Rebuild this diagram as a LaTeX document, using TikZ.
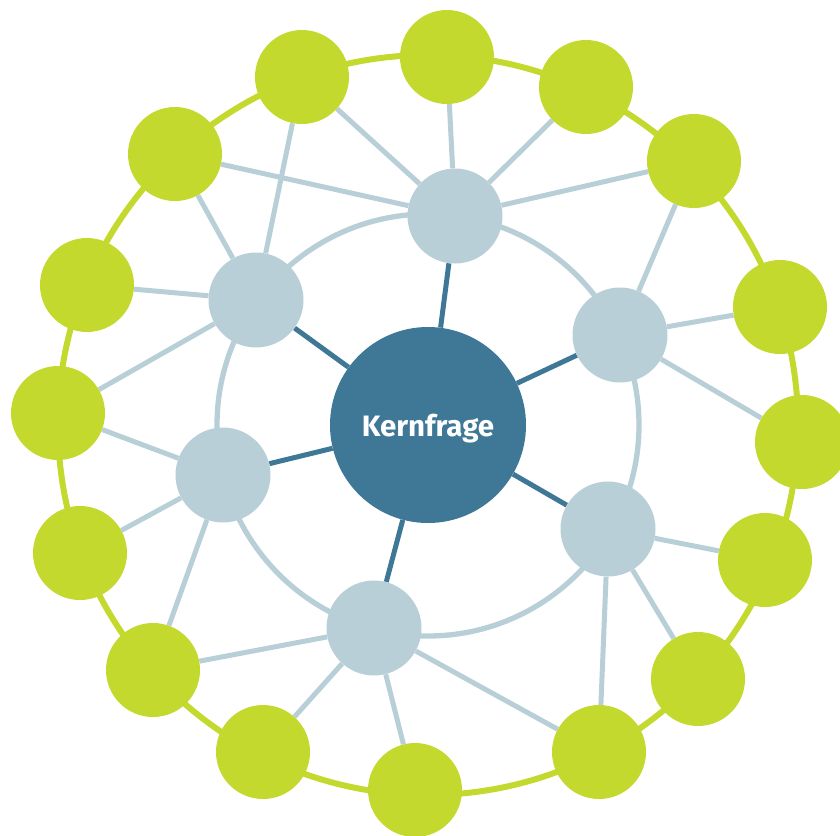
\documentclass[tikz,border=0pt]{standalone}
\usepackage{fontspec}
\setmainfont{Fira Sans}
\usetikzlibrary{backgrounds}
\definecolor{kerncol}{HTML}{3E7896}
\definecolor{innercol}{HTML}{B9CFD8}
\definecolor{outercol}{HTML}{C4D92E}
\begin{document}
\begin{tikzpicture}[x=1pt,y=-1pt,
  outernode/.style={circle,fill=outercol,minimum size=94pt,inner sep=0pt},
  innernode/.style={circle,fill=innercol,minimum size=95pt,inner sep=0pt},
  kernnode/.style={circle,fill=kerncol,minimum size=196pt,inner sep=0pt,text depth=0pt,text=white,font=\bfseries\fontsize{29.5}{31}\selectfont},
  link/.style={draw=innercol,line width=5pt},
  spoke/.style={draw=kerncol,line width=5pt},
  ring/.style={line width=5.3pt}]
\useasboundingbox (0,0) rectangle (840,835);
% centre
\node[kernnode] (k) at (428,425) {Kernfrage};
% inner nodes
\node[innernode] (i1) at (455,216) {};
\node[innernode] (i2) at (256,300) {};
\node[innernode] (i3) at (620,335) {};
\node[innernode] (i4) at (223,475) {};
\node[innernode] (i5) at (608,529) {};
\node[innernode] (i6) at (374,628) {};
% outer nodes
\node[outernode] (o1) at (447,57) {};
\node[outernode] (o2) at (302,77) {};
\node[outernode] (o3) at (586,87) {};
\node[outernode] (o4) at (175,154) {};
\node[outernode] (o5) at (694,161) {};
\node[outernode] (o6) at (87,285) {};
\node[outernode] (o7) at (780,307) {};
\node[outernode] (o8) at (58,413) {};
\node[outernode] (o9) at (802,442) {};
\node[outernode] (o10) at (80,553) {};
\node[outernode] (o11) at (765,560) {};
\node[outernode] (o12) at (153,670) {};
\node[outernode] (o13) at (698,679) {};
\node[outernode] (o14) at (263,752) {};
\node[outernode] (o15) at (599,752) {};
\node[outernode] (o16) at (415,790) {};
\begin{scope}[on background layer]
  \draw[draw=outercol,line width=6pt] (k.center) circle[radius=370pt];
  \draw[ring,draw=innercol] (k.center) circle[radius=211pt];
  % light links
  \draw[link] (i1) -- (o1);
  \draw[link] (i1) -- (o2);
  \draw[link] (i1) -- (o3);
  \draw[link] (i1) -- (o4);
  \draw[link] (i1) -- (o5);
  \draw[link] (i2) -- (o2);
  \draw[link] (i2) -- (o4);
  \draw[link] (i2) -- (o6);
  \draw[link] (i2) -- (o8);
  \draw[link] (i3) -- (o5);
  \draw[link] (i3) -- (o7);
  \draw[link] (i3) -- (o9);
  \draw[link] (i4) -- (o8);
  \draw[link] (i4) -- (o10);
  \draw[link] (i4) -- (o12);
  \draw[link] (i5) -- (o11);
  \draw[link] (i5) -- (o13);
  \draw[link] (i5) -- (o15);
  \draw[link] (i6) -- (o12);
  \draw[link] (i6) -- (o14);
  \draw[link] (i6) -- (o16);
  \draw[link] (i6) -- (o15);
  % dark spokes
  \foreach \n in {i1,i2,i3,i4,i5,i6} \draw[spoke] (k) -- (\n);
\end{scope}
\end{tikzpicture}
\end{document}
